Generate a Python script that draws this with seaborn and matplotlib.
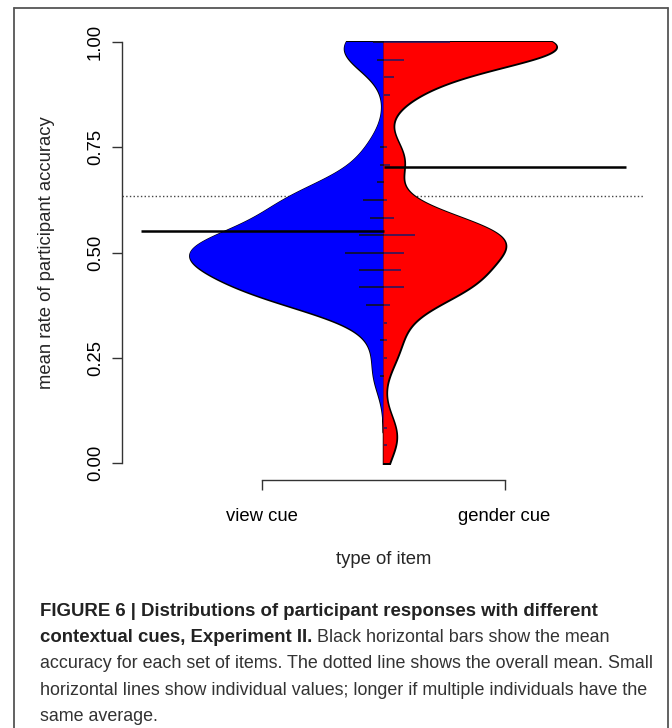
import numpy as np
import pandas as pd
import matplotlib
matplotlib.use("Agg")
import matplotlib.pyplot as plt
from matplotlib.lines import Line2D
from matplotlib.patches import Rectangle
import seaborn as sns

# ---------------- data ----------------
cue_names = ["view cue", "gender cue"]
cue_colors = ["#0000ff", "#ff0000"]

view_values = [1.000, 0.958, 0.750, 0.708, 0.667, 0.625, 0.583, 0.542,
               0.500, 0.458, 0.417, 0.375, 0.292, 0.208]
view_counts = [3, 2, 1, 1, 2, 6, 4, 7, 11, 7, 7, 5, 1, 1]

gender_values = [1.000, 0.958, 0.917, 0.875, 0.750, 0.708, 0.625, 0.583,
                 0.542, 0.500, 0.458, 0.417, 0.375, 0.333, 0.292, 0.250,
                 0.083, 0.042]
gender_counts = [19, 6, 3, 2, 1, 2, 1, 3, 9, 6, 5, 6, 2, 1, 1, 1, 1, 1]

group_means = [0.552, 0.703]     # black bars
overall_mean = 0.634             # dotted line

y_ticks = [0.00, 0.25, 0.50, 0.75, 1.00]
y_tick_labels = ["0.00", "0.25", "0.50", "0.75", "1.00"]
x_label = "type of item"
y_label = "mean rate of participant accuracy"

caption_bold_1 = "FIGURE 6 | Distributions of participant responses with different"
caption_bold_2 = "contextual cues, Experiment II."
caption_rest_2 = " Black horizontal bars show the mean"
caption_lines = [
    "accuracy for each set of items. The dotted line shows the overall mean. Small",
    "horizontal lines show individual values; longer if multiple individuals have the",
    "same average.",
]

# ---------------- styling constants ----------------
BW = 0.045            # absolute KDE bandwidth
UNIT = 0.0072         # beanline length per individual
MEAN_LEN = 0.5        # length of mean bars
CUT_LO, CUT_HI = 0.0, 1.0   # density drawn only inside this range
EDGE = 0.003
FS = 13.3

sns.set_style("ticks")
plt.rcParams["font.family"] = ["Liberation Sans", "DejaVu Sans"]

groups = [(cue_names[0], view_values, view_counts),
          (cue_names[1], gender_values, gender_counts)]
frames = []
for name, vals, cnts in groups:
    frames.append(pd.DataFrame({"accuracy": np.repeat(vals, cnts),
                                "cue": name}))
df = pd.concat(frames, ignore_index=True)
df["pair"] = "all"

fig = plt.figure(figsize=(6.72, 7.28), dpi=100)
ax = fig.add_axes([122 / 672, 1 - 480 / 728, 523 / 672, 455 / 728])


def fixed_bw(kde):
    return BW / np.std(kde.dataset, ddof=1)


common = dict(data=df, x="pair", y="accuracy", hue="cue", hue_order=cue_names,
              split=True, inner=None, cut=3, bw_method=fixed_bw,
              density_norm="area", common_norm=True, gridsize=500,
              saturation=1, width=0.8, legend=False, ax=ax)

# outline layer (black silhouette), then coloured fill on top
n0 = len(ax.collections)
sns.violinplot(palette={n: "black" for n in cue_names},
               linewidth=1.8, linecolor="black", **common)
outline = ax.collections[n0:]
n1 = len(ax.collections)
sns.violinplot(palette=dict(zip(cue_names, cue_colors)),
               linewidth=0, linecolor="none", **common)
fills = ax.collections[n1:]

clip_outline = Rectangle((-1, CUT_LO - EDGE), 2, CUT_HI - CUT_LO + 2 * EDGE,
                         transform=ax.transData)
clip_fill = Rectangle((-1, CUT_LO), 2, CUT_HI - CUT_LO, transform=ax.transData)
for c in outline:
    c.set_clip_path(clip_outline)
for c in fills:
    c.set_clip_path(clip_fill)

# overall mean (dotted, behind beans)
ax.axhline(overall_mean, color="#444444", ls=":", lw=1.0, zorder=0.5)

# individual-value beanlines
for side, (name, vals, cnts) in zip([-1, 1], groups):
    col = "#111111" if side < 0 else "#1a1a66"
    for v, c in zip(vals, cnts):
        ax.hlines(v, 0, side * c * UNIT, color=col, lw=1.1, zorder=3)

# group means
for side, m in zip([-1, 1], group_means):
    ax.hlines(m, 0, side * MEAN_LEN, color="black", lw=1.8, zorder=4)

ax.set_xlim(-0.54, 0.54)
ax.set_ylim(-0.04, 1.04)
ax.set_xticks([-0.25, 0.25])
ax.set_xticklabels(cue_names, fontsize=FS)
ax.set_yticks(y_ticks)
ax.set_yticklabels(y_tick_labels, fontsize=FS, rotation=90, va="center")
ax.set_xlabel(x_label, fontsize=FS, labelpad=19)
ax.set_ylabel(y_label, fontsize=FS, labelpad=23)

for s in ["top", "right"]:
    ax.spines[s].set_visible(False)
ax.spines["left"].set_bounds(0, 1)
ax.spines["bottom"].set_bounds(-0.25, 0.25)
for s in ["left", "bottom"]:
    ax.spines[s].set_color("#333333")
    ax.spines[s].set_linewidth(1.0)
ax.tick_params(axis="both", direction="out", length=7, width=1.0,
               color="#333333", labelcolor="black", bottom=True, left=True)
ax.tick_params(axis="x", pad=13)
ax.tick_params(axis="y", pad=6)
ax.set_facecolor("white")

# ---------------- caption ----------------
x0 = 40 / 672
base = 620
step = 26.2
bold_kw = dict(fontsize=13.4, color="#222222", va="bottom", ha="left",
               fontweight="bold")
reg_kw = dict(fontsize=12.9, color="#333333", va="bottom", ha="left")
fig.text(x0, 1 - base / 728, caption_bold_1, **bold_kw)
t2 = fig.text(x0, 1 - (base + step) / 728, caption_bold_2, **bold_kw)
ax.annotate(caption_rest_2, xy=(1, 0), xycoords=t2, annotation_clip=False,
            **reg_kw)
for i, line in enumerate(caption_lines):
    fig.text(x0, 1 - (base + step * (i + 2)) / 728, line, **reg_kw)

# ---------------- outer frame ----------------
fc = "#555555"
L, T, R = 14 / 672, 1 - 8 / 728, 668 / 672
fig.add_artist(Line2D([L, L], [0, T], transform=fig.transFigure, color=fc, lw=1.3))
fig.add_artist(Line2D([L, R], [T, T], transform=fig.transFigure, color=fc, lw=1.3))
fig.add_artist(Line2D([R, R], [0, T], transform=fig.transFigure, color=fc, lw=1.3))

fig.savefig("out.png", dpi=100, facecolor="white")
